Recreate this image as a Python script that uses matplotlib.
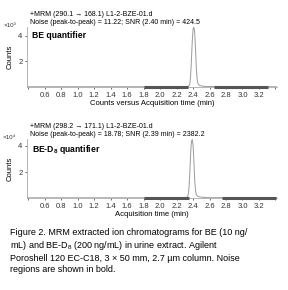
import matplotlib
matplotlib.use("Agg")
import matplotlib.pyplot as plt

plt.rcParams['font.family'] = ['Liberation Sans Narrow', 'Liberation Sans', 'DejaVu Sans']
plt.rcParams['mathtext.fontset'] = 'custom'
plt.rcParams['mathtext.rm'] = 'Liberation Sans'
plt.rcParams['mathtext.bf'] = 'Liberation Sans:bold'

# BE quantifier trace (x10^3 counts)
be_time = [0.39, 2.30, 2.34, 2.36, 2.37, 2.38, 2.39, 2.40, 2.41, 2.42, 2.43,
           2.44, 2.45, 2.46, 2.48, 2.52, 2.60, 3.42]
be_counts = [0.02, 0.02, 0.03, 0.2, 0.8, 2.0, 3.5, 4.5, 4.7, 4.3, 3.0,
             1.5, 0.6, 0.25, 0.12, 0.06, 0.03, 0.02]
be_noise = [(1.80, 2.34), (2.65, 3.31)]

# BE-D8 quantifier trace (x10^4 counts)
d8_time = [0.39, 2.28, 2.32, 2.34, 2.35, 2.36, 2.37, 2.38, 2.39, 2.40, 2.41,
           2.42, 2.43, 2.44, 2.46, 2.50, 2.58, 3.42]
d8_counts = [0.02, 0.02, 0.03, 0.2, 0.7, 1.8, 3.3, 4.3, 4.5, 4.1, 2.9,
             1.4, 0.6, 0.25, 0.12, 0.07, 0.03, 0.02]
d8_noise = [(1.80, 2.35), (2.75, 3.41)]

xticks = [0.4, 0.6, 0.8, 1.0, 1.2, 1.4, 1.6, 1.8, 2.0, 2.2, 2.4, 2.6, 2.8, 3.0, 3.2, 3.4]

panels = [
    dict(t=be_time, y=be_counts, noise=be_noise, top=4.7, scale='×10³',
         hdr1='+MRM (290.1 → 168.1) L1-2-BZE-01.d',
         hdr2='Noise (peak-to-peak) = 11.22; SNR (2.40 min) = 424.5',
         name='BE quantifier', xlabel='Counts versus Acquisition time (min)',
         rect=[0.095, 0.700, 0.867, 0.207]),
    dict(t=d8_time, y=d8_counts, noise=d8_noise, top=4.54, scale='×10⁴',
         hdr1='+MRM (298.2 → 171.1) L1-2-BZE-01.d',
         hdr2='Noise (peak-to-peak) = 18.78; SNR (2.39 min) = 2382.2',
         name=r'BE-D$_\mathbf{8}$ quantifier', xlabel='Acquisition time (min)',
         rect=[0.095, 0.317, 0.867, 0.204]),
]

fig = plt.figure(figsize=(2.88, 2.90), dpi=100)

for p in panels:
    ax = fig.add_axes(p['rect'])
    ax.plot(p['t'], p['y'], color='#9a9a9a', lw=0.7)
    for a, b in p['noise']:
        ax.plot([a, b], [0.02, 0.02], color='#555555', lw=2.2,
                solid_capstyle='butt', clip_on=False, zorder=5)
    ax.set_xlim(0.389, 3.42)
    ax.set_ylim(0, p['top'])
    ax.set_xticks(xticks)
    ax.set_xticklabels(['' if v in (0.4, 3.4) else f'{v:.1f}' for v in xticks])
    ax.set_yticks([2, 4])
    ax.tick_params(labelsize=5.5, length=1.5, width=0.5, pad=2, colors='#333333')
    for s in ['top', 'right']:
        ax.spines[s].set_visible(False)
    for s in ['left', 'bottom']:
        ax.spines[s].set_color('#aaaaaa')
        ax.spines[s].set_linewidth(0.6)
    ax.set_ylabel('Counts', fontsize=5.5, labelpad=3)
    ax.set_xlabel(p['xlabel'], fontsize=5.5, labelpad=0.5)
    ax.text(-0.045, 1.03, p['scale'], transform=ax.transAxes, fontsize=4.5,
            ha='right', va='center', color='#333333')
    ax.text(0.02, 0.93, p['name'], transform=ax.transAxes, fontsize=6.2,
            fontweight='bold', va='top')
    ax.text(0.01, 1.21, p['hdr1'], transform=ax.transAxes, fontsize=5.0, va='center')
    ax.text(0.01, 1.08, p['hdr2'], transform=ax.transAxes, fontsize=5.0, va='center')

caption = ('Figure 2. MRM extracted ion chromatograms for BE (10 ng/\n'
           'mL) and BE-D$_8$ (200 ng/mL) in urine extract. Agilent\n'
           'Poroshell 120 EC-C18, 3 × 50 mm, 2.7 µm column. Noise\n'
           'regions are shown in bold.')
fig.text(10 / 288, 1 - 228 / 290, caption, fontsize=6.5, va='top', ha='left',
         family=['Liberation Sans', 'DejaVu Sans'], linespacing=1.25)

fig.savefig('out.png', dpi=100)
